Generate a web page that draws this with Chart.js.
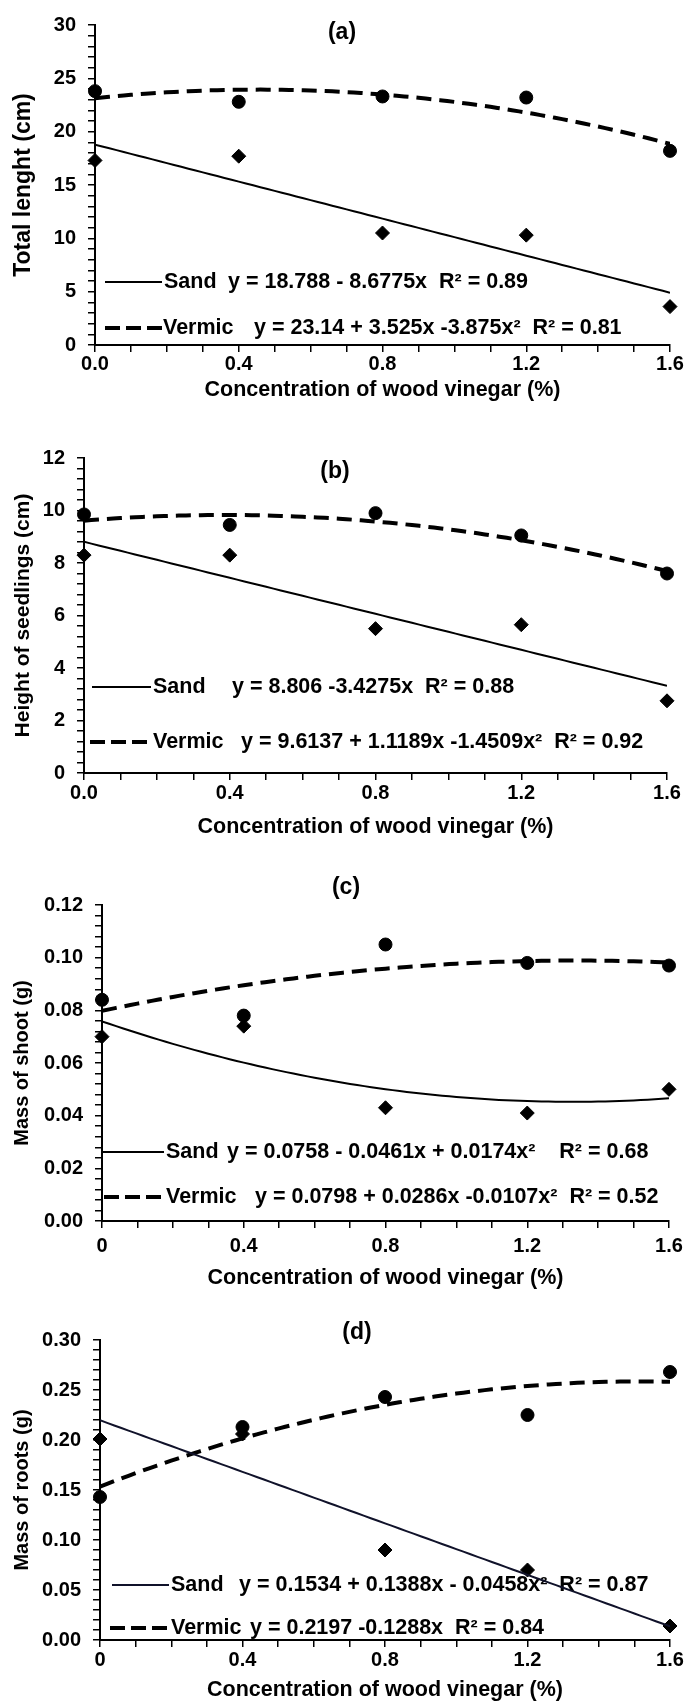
<!DOCTYPE html>
<html lang="en">
<head>
<meta charset="UTF-8">
<title>Wood vinegar and seedling growth</title>
<script src="https://cdn.jsdelivr.net/npm/chart.js"></script>
<style>
  body { margin: 0; background: #fff; }
  .wrap { position: relative; width: 684px; height: 1703px; }
  canvas { position: absolute; left: 0; }
</style>
</head>
<body>
<div class="wrap">
  <canvas id="chartA" width="684" height="420" style="top:0;width:684px;height:420px"></canvas>
  <canvas id="chartB" width="684" height="420" style="top:420px;width:684px;height:420px"></canvas>
  <canvas id="chartC" width="684" height="460" style="top:840px;width:684px;height:460px"></canvas>
  <canvas id="chartD" width="684" height="403" style="top:1300px;width:684px;height:403px"></canvas>
</div>

<script>
// concentration of wood vinegar (%)
const concentration = [0, 0.4, 0.8, 1.2, 1.6];
const xLabelsAB = ['0.0', '0.4', '0.8', '1.2', '1.6'];
const xLabelsCD = ['0', '0.4', '0.8', '1.2', '1.6'];

// (a) total length (cm)
const lengthSand = [17.3, 17.7, 10.5, 10.3, 3.6];
const lengthVermic = [23.8, 22.8, 23.3, 23.2, 18.2];
const lengthSolidFit = [18.788, -8.6775, 0];
const lengthDashedFit = [23.14, 3.525, -3.875];
const yLabelsA = ['0', '5', '10', '15', '20', '25', '30'];

// (b) height of seedlings (cm)
const heightSand = [8.3, 8.3, 5.5, 5.65, 2.75];
const heightVermic = [9.85, 9.45, 9.9, 9.05, 7.6];
const heightSolidFit = [8.806, -3.4275, 0];
const heightDashedFit = [9.6137, 1.1189, -1.4509];
const yLabelsB = ['0', '2', '4', '6', '8', '10', '12'];

// (c) mass of shoot (g)
const shootSand = [0.070, 0.074, 0.043, 0.041, 0.050];
const shootVermic = [0.084, 0.078, 0.105, 0.098, 0.097];
const shootSolidFit = [0.0758, -0.0461, 0.0174];
const shootDashedFit = [0.0798, 0.0286, -0.0107];
const yLabelsC = ['0.00', '0.02', '0.04', '0.06', '0.08', '0.10', '0.12'];

// (d) mass of roots (g)
const rootSand = [0.201, 0.206, 0.090, 0.070, 0.014];
const rootVermic = [0.143, 0.213, 0.243, 0.225, 0.268];
const rootSolidFit = [0.2197, -0.1288, 0];
const rootDashedFit = [0.1534, 0.1388, -0.0458];
const yLabelsD = ['0.00', '0.05', '0.10', '0.15', '0.20', '0.25', '0.30'];

const FONT = '"Liberation Sans", Arial, sans-serif';

// trendline from the printed equation
function curve(c) {
  const pts = [];
  for (let i = 0; i <= 80; i++) {
    const x = i / 50;
    pts.push({ x: x, y: c[0] + c[1] * x + c[2] * x * x });
  }
  return pts;
}

const panelText = {
  id: 'panelText',
  beforeDatasetsDraw(chart, args, opts) {
    const ctx = chart.ctx;
    ctx.save();
    ctx.fillStyle = '#000';
    ctx.textBaseline = 'middle';
    ctx.textAlign = 'center';
    ctx.font = 'bold 23px ' + FONT;
    ctx.fillText(opts.letter[0], opts.letter[1], opts.letter[2]);
    ctx.textAlign = 'left';
    ctx.font = 'bold 21.5px ' + FONT;
    opts.keys.forEach(k => {
      ctx.strokeStyle = k.dash ? '#000' : (opts.solidColor || '#000');
      ctx.lineWidth = k.dash ? 4 : 2;
      ctx.setLineDash(k.dash ? [15, 6] : []);
      ctx.beginPath();
      ctx.moveTo(k.x1, k.y);
      ctx.lineTo(k.x2, k.y);
      ctx.stroke();
      ctx.setLineDash([]);
      ctx.fillText(k.label, k.lx, k.y);
      ctx.fillText(k.eq, k.ex, k.y);
    });
    ctx.restore();
  }
};

function makeChart(id, p) {
  const H = document.getElementById(id).height;
  const yMinor = p.yStep / 5;
  const nY = Math.round(p.yMax / yMinor);
  new Chart(document.getElementById(id), {
    type: 'scatter',
    data: {
      datasets: [
        {
          data: curve(p.solidFit), showLine: true, pointRadius: 0,
          borderColor: p.solidColor || '#000', borderWidth: 2, fill: false
        },
        {
          data: curve(p.dashedFit), showLine: true, pointRadius: 0,
          borderColor: '#000', borderWidth: 4, borderDash: [15, 8], fill: false
        },
        {
          data: concentration.map((x, i) => ({ x: x, y: p.sand[i] })),
          pointStyle: 'rectRot', pointRadius: 7, backgroundColor: '#000',
          borderColor: '#000', borderWidth: 1, clip: false
        },
        {
          data: concentration.map((x, i) => ({ x: x, y: p.vermic[i] })),
          pointStyle: 'circle', pointRadius: 6.5, backgroundColor: '#000',
          borderColor: '#000', borderWidth: 1, clip: false
        }
      ]
    },
    options: {
      responsive: false,
      animation: false,
      layout: { padding: { left: 0, top: p.area.t, right: 684 - p.area.r, bottom: 0 } },
      plugins: {
        legend: { display: false },
        tooltip: { enabled: false },
        panelText: { letter: p.letter, keys: p.keys, solidColor: p.solidColor }
      },
      scales: {
        x: {
          type: 'linear', min: 0, max: 1.6,
          afterBuildTicks: s => {
            s.ticks = [];
            for (let i = 0; i <= 16; i++) s.ticks.push({ value: i / 10 });
          },
          afterFit: s => { s.height = H - p.area.b; s.paddingLeft = 0; s.paddingRight = 0; },
          ticks: {
            autoSkip: false, maxRotation: 0, padding: p.xPad, color: '#000',
            font: { family: FONT, size: 20, weight: 'bold' },
            callback: (v, i) => (i % 4 === 0 ? p.xLabels[i / 4] : '')
          },
          grid: { drawOnChartArea: false, tickLength: 7, color: '#000', lineWidth: 1.5 },
          border: { color: '#000', width: 2 },
          title: {
            display: true, text: 'Concentration of wood vinegar (%)', color: '#000',
            font: { family: FONT, size: 21.5, weight: 'bold' },
            padding: { top: 0, bottom: p.xTitlePad }
          }
        },
        y: {
          type: 'linear', min: 0, max: p.yMax,
          afterBuildTicks: s => {
            s.ticks = [];
            for (let i = 0; i <= nY; i++) s.ticks.push({ value: +(i * yMinor).toFixed(6) });
          },
          afterFit: s => { s.width = p.area.l; s.paddingTop = 0; s.paddingBottom = 0; },
          ticks: {
            autoSkip: false, padding: 12, color: '#000',
            font: { family: FONT, size: 20, weight: 'bold' },
            callback: (v, i) => (i % 5 === 0 ? p.yLabels[i / 5] : '')
          },
          grid: { drawOnChartArea: false, tickLength: 7, color: '#000', lineWidth: 1.5 },
          border: { color: '#000', width: 2 },
          title: {
            display: true, text: p.yTitle, color: '#000',
            font: { family: FONT, size: p.yTitleSize, weight: 'bold' },
            padding: p.yTitlePad
          }
        }
      }
    },
    plugins: [panelText]
  });
}

makeChart('chartA', {
  sand: lengthSand, vermic: lengthVermic, solidFit: lengthSolidFit, dashedFit: lengthDashedFit,
  yMax: 30, yStep: 5, yLabels: yLabelsA, xLabels: xLabelsAB,
  yTitle: 'Total lenght (cm)', yTitleSize: 23, yTitlePad: 10,
  area: { l: 95, r: 670, t: 25, b: 345 }, xPad: 0, xTitlePad: 17,
  letter: ['(a)', 342, 33],
  keys: [
    { dash: false, x1: 105, x2: 162, y: 282, label: 'Sand', lx: 164, eq: 'y = 18.788 - 8.6775x  R² = 0.89', ex: 228 },
    { dash: true, x1: 105, x2: 162, y: 328, label: 'Vermic', lx: 163, eq: 'y = 23.14 + 3.525x -3.875x²  R² = 0.81', ex: 254 }
  ]
});

makeChart('chartB', {
  sand: heightSand, vermic: heightVermic, solidFit: heightSolidFit, dashedFit: heightDashedFit,
  yMax: 12, yStep: 2, yLabels: yLabelsB, xLabels: xLabelsAB,
  yTitle: 'Height of seedlings (cm)', yTitleSize: 21, yTitlePad: 11,
  area: { l: 84, r: 667, t: 38, b: 353 }, xPad: 1, xTitlePad: 0,
  letter: ['(b)', 335, 52],
  keys: [
    { dash: false, x1: 92, x2: 151, y: 267, label: 'Sand', lx: 153, eq: 'y = 8.806 -3.4275x  R² = 0.88', ex: 232 },
    { dash: true, x1: 90, x2: 151, y: 322, label: 'Vermic', lx: 153, eq: 'y = 9.6137 + 1.1189x -1.4509x²  R² = 0.92', ex: 241 }
  ]
});

makeChart('chartC', {
  sand: shootSand, vermic: shootVermic, solidFit: shootSolidFit, dashedFit: shootDashedFit,
  yMax: 0.12, yStep: 0.02, yLabels: yLabelsC, xLabels: xLabelsCD,
  yTitle: 'Mass of shoot (g)', yTitleSize: 20, yTitlePad: 10,
  area: { l: 102, r: 669, t: 65, b: 381 }, xPad: 6, xTitlePad: 9,
  letter: ['(c)', 346, 48],
  keys: [
    { dash: false, x1: 102, x2: 164, y: 312, label: 'Sand', lx: 166, eq: 'y = 0.0758 - 0.0461x + 0.0174x²    R² = 0.68', ex: 227 },
    { dash: true, x1: 104, x2: 164, y: 357, label: 'Vermic', lx: 166, eq: 'y = 0.0798 + 0.0286x -0.0107x²  R² = 0.52', ex: 255 }
  ]
});

makeChart('chartD', {
  sand: rootSand, vermic: rootVermic, solidFit: rootSolidFit, dashedFit: rootDashedFit,
  yMax: 0.30, yStep: 0.05, yLabels: yLabelsD, xLabels: xLabelsCD, solidColor: '#10122a',
  yTitle: 'Mass of roots (g)', yTitleSize: 20, yTitlePad: 10,
  area: { l: 100, r: 670, t: 40, b: 340 }, xPad: 1, xTitlePad: 0,
  letter: ['(d)', 357, 33],
  keys: [
    { dash: false, x1: 112, x2: 169, y: 285, label: 'Sand', lx: 171, eq: 'y = 0.1534 + 0.1388x - 0.0458x²  R² = 0.87', ex: 239 },
    { dash: true, x1: 110, x2: 169, y: 328, label: 'Vermic', lx: 171, eq: 'y = 0.2197 -0.1288x  R² = 0.84', ex: 250 }
  ]
});
</script>
</body>
</html>
